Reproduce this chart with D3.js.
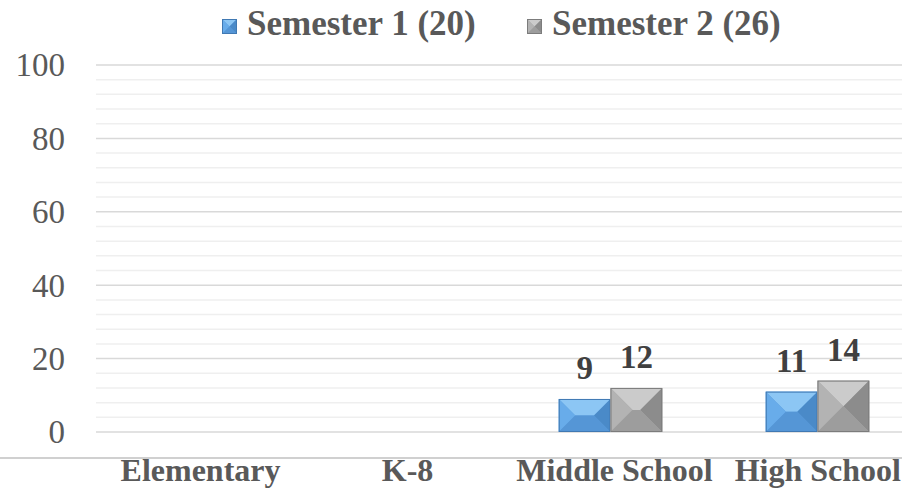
<!DOCTYPE html>
<html><head><meta charset="utf-8">
<script src="https://cdn.jsdelivr.net/npm/d3@7"></script>
<style>body{margin:0;background:#fff;}svg{display:block;}</style>
</head><body>
<script>
const categories = ["Elementary", "K-8", "Middle School", "High School"];
const seriesNames = ["Semester 1 (20)", "Semester 2 (26)"];
const semester1 = [0, 0, 9, 11];
const semester2 = [0, 0, 12, 14];
const yTicks = [0, 20, 40, 60, 80, 100];

const W = 902, H = 488;
const FONT = "'Liberation Serif', 'Times New Roman', serif";
const palettes = [
  {top:"#8cc6f4", left:"#68acea", right:"#4a8ac8", bottom:"#5596d6", center:"#5a9cdc", stroke:"#4079b3"},
  {top:"#cbcbcb", left:"#b3b3b3", right:"#8c8c8c", bottom:"#9d9d9d", center:"#a5a5a5", stroke:"#7c7c7c"}
];

const svg = d3.select("body").append("svg").attr("width", W).attr("height", H);

const y = d3.scaleLinear().domain([0, 100]).range([432, 65]);
const x0 = d3.scaleBand().domain(categories).range([93, 921]).paddingInner(0.5).paddingOuter(0.25);
const x1 = d3.scaleBand().domain([0, 1]).range([0, x0.bandwidth()]);

// gridlines
const minor = d3.range(0, 101, 4).filter(v => v % 20 !== 0);
svg.append("g").selectAll("line").data(minor).join("line")
  .attr("x1", 96).attr("x2", W).attr("y1", d => y(d)).attr("y2", d => y(d))
  .attr("stroke", "#efefef").attr("stroke-width", 1.5);
svg.append("g").selectAll("line").data(yTicks).join("line")
  .attr("x1", 96).attr("x2", W).attr("y1", d => y(d)).attr("y2", d => y(d))
  .attr("stroke", "#d9d9d9").attr("stroke-width", 1.5);

// y axis labels
const yAxis = d3.axisLeft(y).tickValues(yTicks).tickSize(0).tickPadding(0);
const ya = svg.append("g").attr("transform", "translate(65,0)").call(yAxis);
ya.select(".domain").remove();
ya.selectAll("text").attr("font-family", FONT).attr("font-size", 33).attr("fill", "#595959")
  .attr("dy", "0.33em");

// x axis
svg.append("line").attr("x1", 0).attr("x2", W).attr("y1", 458).attr("y2", 458)
  .attr("stroke", "#d0d0d0").attr("stroke-width", 2);
const xAxis = d3.axisBottom(x0).tickSize(0).tickPadding(0);
const xa = svg.append("g").attr("transform", "translate(4,481)").call(xAxis);
xa.select(".domain").remove();
xa.selectAll("text").attr("font-family", FONT).attr("font-size", 32).attr("font-weight", "bold")
  .attr("fill", "#595959").attr("dy", 0)
  .each(function() {
    const b = this.getBBox();
    const tr = this.parentNode.getAttribute("transform");
    const tx = +tr.match(/translate\(([-\d.]+)/)[1] + 4;
    const right = tx + b.x + b.width;
    if (right > W - 1) d3.select(this).attr("x", (W - 1) - right);
  });

function bevel(g, bx, by, w, h, p) {
  if (h <= 0) return;
  const d = Math.min(w / 2, h / 2);
  const X0 = bx, X1 = bx + w, Y0 = by, Y1 = by + h;
  const ix0 = X0 + d, ix1 = X1 - d, iy0 = Y0 + d, iy1 = Y1 - d;
  g.append("rect").attr("x", X0).attr("y", Y0).attr("width", w).attr("height", h).attr("fill", p.center);
  const polys = [
    [[X0,Y0],[X1,Y0],[ix1,iy0],[ix0,iy0], p.top],
    [[X0,Y0],[ix0,iy0],[ix0,iy1],[X0,Y1], p.left],
    [[X1,Y0],[X1,Y1],[ix1,iy1],[ix1,iy0], p.right],
    [[X0,Y1],[ix0,iy1],[ix1,iy1],[X1,Y1], p.bottom]
  ];
  polys.forEach(pp => {
    g.append("polygon").attr("points", pp.slice(0,4).map(q => q.join(",")).join(" ")).attr("fill", pp[4]);
  });
  g.append("rect").attr("x", X0 + 0.5).attr("y", Y0 + 0.5).attr("width", w - 1).attr("height", h - 1)
    .attr("fill", "none").attr("stroke", p.stroke).attr("stroke-width", 1);
}

// bars
const series = [semester1, semester2];
const barsG = svg.append("g");
const labelsG = svg.append("g");
categories.forEach((c, i) => {
  series.forEach((s, k) => {
    const v = s[i];
    if (!v) return;
    const bx = x0(c) + x1(k), bw = x1.bandwidth();
    bevel(barsG, bx, y(v), bw, y(0) - y(v), palettes[k]);
    labelsG.append("text").attr("x", bx + bw / 2).attr("y", y(v) - 20)
      .attr("text-anchor", "middle").attr("font-family", FONT).attr("font-size", 33)
      .attr("font-weight", "bold").attr("fill", "#404040").text(v);
  });
});

// legend
const legendX = [222, 527];
seriesNames.forEach((n, k) => {
  const g = svg.append("g");
  bevel(g, legendX[k], 19, 15, 15, palettes[k]);
  g.append("text").attr("x", legendX[k] + 25).attr("y", 35)
    .attr("font-family", FONT).attr("font-size", 35).attr("font-weight", "bold")
    .attr("fill", "#595959").text(n);
});
</script>
</body></html>
